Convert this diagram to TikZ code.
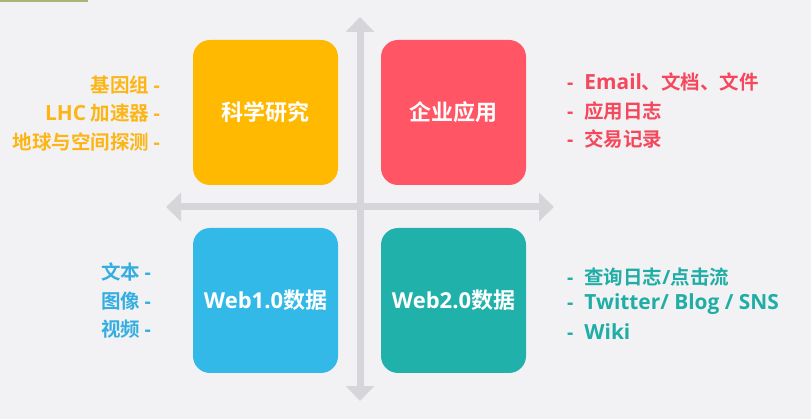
\documentclass[tikz,border=0pt]{standalone}
\usepackage{fontspec}
\setmainfont{Noto Sans CJK SC}[BoldFont={Noto Sans CJK SC Bold}]
\newfontfamily\cjkb{Noto Sans CJK SC Bold}
\newfontfamily\lat{Open Sans}
\newfontfamily\latw{Open Sans}[Scale=1.07]
\newcommand{\la}[1]{{\lat\bfseries #1}}
\newcommand{\lw}[1]{{\latw\bfseries #1}}
\usetikzlibrary{arrows.meta}
\definecolor{bgc}{HTML}{F2F2F4}
\definecolor{axisc}{HTML}{D6D6DA}
\definecolor{cyel}{HTML}{FFB900}
\definecolor{cred}{HTML}{FF5565}
\definecolor{cblue}{HTML}{33B9E8}
\definecolor{cteal}{HTML}{20B1AA}
\definecolor{tyel}{HTML}{FDB515}
\definecolor{tred}{HTML}{F5485C}
\definecolor{tblue}{HTML}{34AEE0}
\definecolor{tteal}{HTML}{1FADA6}
\definecolor{topline}{HTML}{A6B47A}
\begin{document}
\begin{tikzpicture}[x=1pt,y=-1pt,
  quad/.style={rectangle,rounded corners=17pt,minimum width=145pt,minimum height=145pt,inner sep=0pt,text=white,font=\cjkb\fontsize{22}{24}\selectfont},
  lbl/.style={inner sep=0pt,font=\cjkb\fontsize{19.5}{21}\selectfont},
  ax/.style={axisc,line width=7pt,{Triangle[width=28pt,length=15pt]}-{Triangle[width=28pt,length=15pt]}}
]
\useasboundingbox (0,0) rectangle (811,419);
\fill[bgc] (0,0) rectangle (811,419);
\fill[topline] (0,0) rectangle (88,2);

% axes
\coordinate (vt) at (360,17);
\coordinate (vb) at (360,401);
\coordinate (hl) at (166,207);
\coordinate (hr) at (554,207);
\draw[ax] (vb) -- (vt);
\draw[ax] (hl) -- (hr);

% quadrants
\node[quad,fill=cyel] (sci) at (265.5,112.5) {科学研究};
\node[quad,fill=cred] (ent) at (453.5,112.5) {企业应用};
\node[quad,fill=cblue] (w1) at (265.5,300.5) {\la{Web1.0}数据};
\node[quad,fill=cteal] (w2) at (453.5,300.5) {\la{Web2.0}数据};

% left top labels
\node[lbl,text=tyel,anchor=east] (s1) at (160,85) {基因组 \la{-}};
\node[lbl,text=tyel,anchor=east] (s2) at (160,113) {\lw{LHC} 加速器 \la{-}};
\node[lbl,text=tyel,anchor=east] (s3) at (160,142) {地球与空间探测 \la{-}};

% right top labels
\node[lbl,text=tred,anchor=west] (e1) at (567,82) {\la{-}\hspace{11pt}\lw{Email}、文档、文件};
\node[lbl,text=tred,anchor=west] (e2) at (567,111) {\la{-}\hspace{11pt}应用日志};
\node[lbl,text=tred,anchor=west] (e3) at (567,139) {\la{-}\hspace{11pt}交易记录};

% left bottom labels
\node[lbl,text=tblue,anchor=east] (b1) at (151,272) {文本 \la{-}};
\node[lbl,text=tblue,anchor=east] (b2) at (151,301) {图像 \la{-}};
\node[lbl,text=tblue,anchor=east] (b3) at (151,329) {视频 \la{-}};

% right bottom labels
\node[lbl,text=tteal,anchor=west] (t1) at (567,277) {\la{-}\hspace{11pt}查询日志\la{/}点击流};
\node[lbl,text=tteal,anchor=west] (t2) at (567,304) {\la{-}\hspace{11pt}\lw{Twitter/ Blog / SNS}};
\node[lbl,text=tteal,anchor=west] (t3) at (567,332) {\la{-}\hspace{11pt}\lw{Wiki}};
\end{tikzpicture}
\end{document}
